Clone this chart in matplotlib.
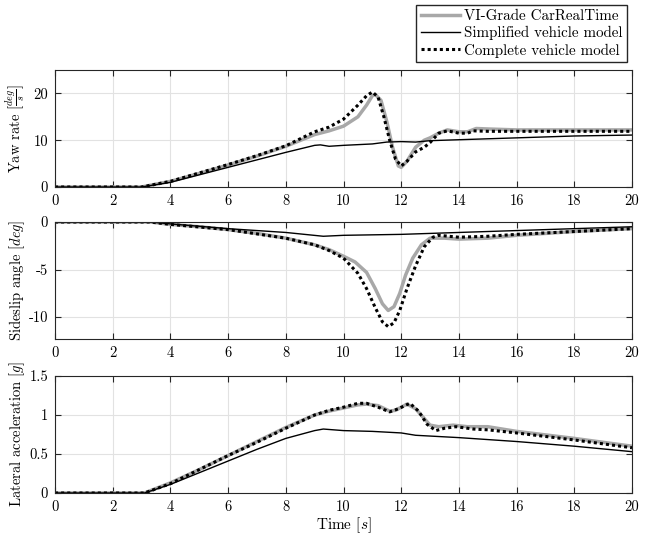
import matplotlib
matplotlib.use("Agg")
import matplotlib.pyplot as plt

plt.rcParams['font.family'] = 'serif'
plt.rcParams['font.serif'] = ['cmr10']
plt.rcParams['mathtext.fontset'] = 'cm'
plt.rcParams['axes.unicode_minus'] = False
plt.rcParams['axes.formatter.use_mathtext'] = False

# ---- yaw rate [deg/s]
t_yaw_vi = [0, 3.0, 4, 5, 6, 7, 8, 9, 9.5, 10, 10.5, 10.8, 11.0, 11.1, 11.3, 11.5, 11.7, 11.9, 12.0,
            12.2, 12.5, 12.8, 13.0, 13.3, 13.6, 14, 14.3, 14.6, 15, 16, 20]
yaw_vi = [0, 0, 1.2, 2.9, 4.7, 6.6, 8.7, 11.2, 12.0, 13.0, 15.0, 17.5, 19.5, 19.8, 18.5, 14.0, 8.5, 4.5, 4.2,
          5.5, 8.5, 10.0, 10.5, 11.5, 12.2, 11.8, 11.8, 12.5, 12.4, 12.2, 12.2]
t_yaw_simp = [0, 3.0, 4, 5, 6, 7, 8, 9, 9.2, 9.5, 10, 11, 11.5, 12, 12.5, 13, 14, 16, 18, 20]
yaw_simp = [0, 0, 1.0, 2.6, 4.2, 5.8, 7.4, 8.9, 9.0, 8.7, 8.9, 9.2, 9.6, 9.7, 9.6, 9.9, 10.1, 10.5, 10.9, 11.1]
t_yaw_comp = [0, 3.0, 4, 5, 6, 7, 8, 9, 9.5, 10, 10.5, 10.8, 11.0, 11.2, 11.4, 11.6, 11.8, 12.0,
              12.2, 12.5, 12.8, 13.0, 13.3, 13.6, 14, 14.3, 14.5, 15, 20]
yaw_comp = [0, 0, 1.2, 3.0, 4.8, 6.7, 8.8, 11.8, 12.8, 14.5, 17.5, 19.5, 20.3, 19.2, 15.0, 10.0, 6.0, 4.5,
            5.5, 7.5, 8.5, 9.5, 11.5, 12.0, 11.5, 11.5, 12.0, 11.9, 11.9]

# ---- sideslip angle [deg]
t_beta_vi = [0, 3.3, 4, 5, 6, 7, 8, 9, 9.5, 10, 10.4, 10.8, 11.1, 11.35, 11.55, 11.75, 11.95, 12.15,
             12.4, 12.7, 13, 13.5, 14, 15, 16, 18, 20]
beta_vi = [0, 0, -0.25, -0.5, -0.8, -1.2, -1.7, -2.4, -2.9, -3.6, -4.2, -5.3, -7.0, -8.6, -9.3, -8.9, -7.5,
           -5.6, -3.8, -2.4, -1.7, -1.7, -1.8, -1.7, -1.4, -1.0, -0.7]
t_beta_simp = [0, 3.3, 4, 6, 8, 9.3, 10, 12, 14, 16, 18, 20]
beta_simp = [0, 0, -0.2, -0.7, -1.1, -1.5, -1.4, -1.3, -1.1, -0.9, -0.7, -0.5]
t_beta_comp = [0, 3.3, 4, 6, 8, 9, 9.5, 10, 10.5, 10.8, 11.1, 11.35, 11.55, 11.75, 11.95, 12.2, 12.5,
               12.8, 13.1, 13.3, 14, 15, 16, 18, 20]
beta_comp = [0, 0, -0.25, -0.8, -1.7, -2.4, -3.0, -3.8, -5.4, -7.0, -9.0, -10.5, -11.0, -10.6, -9.3, -7.0,
             -4.6, -2.6, -1.6, -1.4, -1.6, -1.5, -1.3, -1.0, -0.7]

# ---- lateral acceleration [g]
t_ay_vi = [0, 3.1, 4, 5, 6, 7, 8, 9, 9.5, 10, 10.5, 10.8, 11.2, 11.6, 11.8, 12.2, 12.5, 13, 13.3,
           13.8, 14.3, 15, 16, 18, 20]
ay_vi = [0, 0, 0.13, 0.30, 0.48, 0.66, 0.84, 1.00, 1.05, 1.09, 1.13, 1.14, 1.12, 1.05, 1.06, 1.14, 1.08,
         0.87, 0.85, 0.87, 0.85, 0.85, 0.79, 0.70, 0.60]
t_ay_simp = [0, 3.1, 4, 5, 6, 7, 8, 9, 9.3, 10, 11, 12, 12.5, 14, 16, 18, 20]
ay_simp = [0, 0, 0.11, 0.26, 0.41, 0.56, 0.70, 0.80, 0.82, 0.80, 0.79, 0.77, 0.74, 0.71, 0.66, 0.60, 0.53]
t_ay_comp = [0, 3.1, 4, 5, 6, 7, 8, 9, 9.5, 10, 10.5, 10.8, 11.2, 11.6, 11.9, 12.3, 12.6, 12.9, 13.2,
             13.5, 13.9, 14.5, 15, 16, 18, 20]
ay_comp = [0, 0, 0.12, 0.30, 0.48, 0.65, 0.83, 1.00, 1.06, 1.10, 1.15, 1.15, 1.10, 1.04, 1.08, 1.15, 1.05,
           0.88, 0.80, 0.83, 0.85, 0.82, 0.81, 0.77, 0.68, 0.58]

labels = ["VI-Grade CarRealTime", "Simplified vehicle model", "Complete vehicle model"]

fig = plt.figure(figsize=(6.47, 5.35), dpi=100)
W, H = 647.0, 535.0
left, width, height = 55 / W, 577 / W, 117 / H
tops = [70, 222, 376]

panels = [
    (t_yaw_vi, yaw_vi, t_yaw_simp, yaw_simp, t_yaw_comp, yaw_comp, (0, 25), [0, 10, 20],
     r'Yaw rate $[\frac{deg}{s}]$'),
    (t_beta_vi, beta_vi, t_beta_simp, beta_simp, t_beta_comp, beta_comp, (-12.3, 0), [-10, -5, 0],
     r'Sideslip angle $[deg]$'),
    (t_ay_vi, ay_vi, t_ay_simp, ay_simp, t_ay_comp, ay_comp, (0, 1.5), [0, 0.5, 1, 1.5],
     r'Lateral acceleration $[g]$'),
]

axes = []
for i, (tv, yv, ts, ys, tc, yc, ylim, yt, ylab) in enumerate(panels):
    ax = fig.add_axes([left, 1 - (tops[i] + 117) / H, width, height])
    h1, = ax.plot(tv, yv, color='#a8a8a8', lw=2.5)
    h2, = ax.plot(ts, ys, color='black', lw=1.0)
    h3, = ax.plot(tc, yc, color='black', lw=2.2, ls=(0, (1, 1)))
    ax.set_xlim(0, 20)
    ax.set_ylim(*ylim)
    ax.set_xticks(range(0, 21, 2))
    ax.set_yticks(yt)
    if i == 2:
        ax.set_yticklabels(['0', '0.5', '1', '1.5'])
    ax.grid(True, color='#e2e2e2', lw=0.8)
    ax.set_axisbelow(True)
    ax.tick_params(direction='in', top=True, right=True, labelsize=10.5, length=4,
                   color='#262626', pad=5)
    for s in ax.spines.values():
        s.set_color('#262626')
        s.set_linewidth(0.8)
    ax.set_ylabel(ylab, fontsize=10.5)
    ax.yaxis.set_label_coords(-0.048, 0.5)
    axes.append(ax)

axes[2].set_xlabel(r'Time $[s]$', fontsize=11, labelpad=1)

fig.legend([h1, h2, h3], labels, loc='upper right', bbox_to_anchor=(627 / W, 1 - 5 / H),
           fontsize=10.8, frameon=True, fancybox=False, edgecolor='#262626', framealpha=1,
           handlelength=2.6, handletextpad=0.3, borderpad=0.3, labelspacing=0.2,
           borderaxespad=0)

fig.savefig("out.png", dpi=100)
